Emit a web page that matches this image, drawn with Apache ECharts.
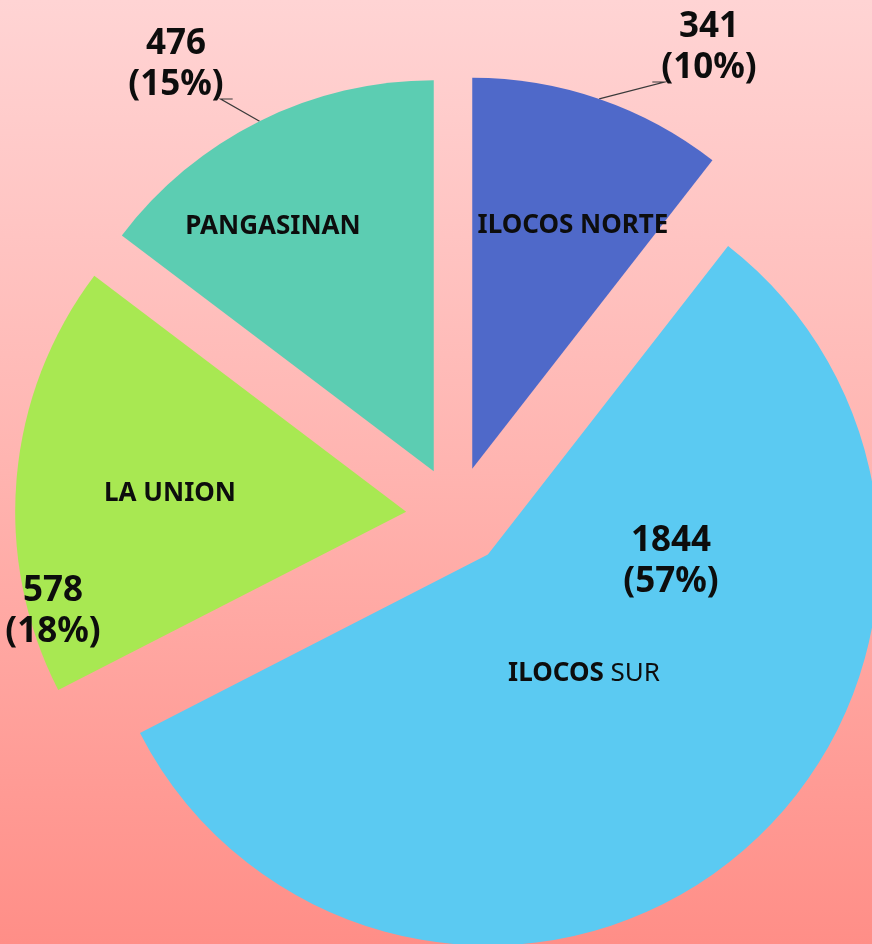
<!DOCTYPE html>
<html>
<head>
<meta charset="utf-8">
<title>Pie</title>
<script src="https://cdn.jsdelivr.net/npm/echarts@6/dist/echarts.min.js"></script>
<style>
  html, body { margin: 0; padding: 0; }
  #chart { width: 872px; height: 944px; }
</style>
</head>
<body>
<div id="chart"></div>
<script>
// data
const provinces = ['ILOCOS NORTE', 'ILOCOS SUR', 'LA UNION', 'PANGASINAN']
const counts = [341, 1844, 578, 476]
const shownPercents = ['10%', '57%', '18%', '15%']

const sliceColors = ['#4f69c9', '#5bcaf2', '#a8e852', '#5ccdb2']

// label centres (they were dragged by hand in the original)
const nameSpots = [[573, 226], [584, 674], [170, 494], [273, 227]]
const valueSpots = [[709, 48], [671, 562], [53, 612], [176, 65]]
const showLeader = [true, false, false, true]

const labelFont = '"Noto Sans", "DejaVu Sans", sans-serif'
const textColor = '#0d0d0d'

const center = [456, 516]
const radius = 391
const explode = 50

// every slice is pulled out along its middle angle
const total = counts.reduce((a, b) => a + b, 0)
let before = 0
const midAngles = counts.map((v) => {
  const a = 90 - 360 * (before + v / 2) / total
  before += v
  return a
})

function sliceCenter(k) {
  const r = midAngles[k] * Math.PI / 180
  return [center[0] + explode * Math.cos(r), center[1] - explode * Math.sin(r)]
}

function arcMiddle(k) {
  const c = sliceCenter(k)
  const r = midAngles[k] * Math.PI / 180
  return [c[0] + radius * Math.cos(r), c[1] - radius * Math.sin(r)]
}

// one pie per slice and per label kind, only slice k is painted / labelled
function sliceSeries(k, kind) {
  const isName = kind === 'name'
  return {
    type: 'pie',
    center: sliceCenter(k),
    radius: radius,
    startAngle: 90,
    clockwise: true,
    avoidLabelOverlap: false,
    silent: true,
    emphasis: { disabled: true },
    itemStyle: { borderWidth: 0 },
    data: provinces.map((name, i) => ({
      name: name,
      value: counts[i],
      itemStyle: { color: (isName && i === k) ? sliceColors[i] : 'rgba(0,0,0,0)' },
      label: { show: i === k },
      labelLine: { show: !isName && i === k && showLeader[i] }
    })),
    label: isName ? {
      position: 'inside',
      color: textColor,
      fontFamily: labelFont,
      fontSize: 26,
      fontWeight: 'bold',
      formatter: (p) => p.name === 'ILOCOS SUR' ? '{b|ILOCOS} {n|SUR}' : p.name,
      rich: {
        b: { fontFamily: labelFont, fontSize: 26, fontWeight: 'bold', color: textColor },
        n: { fontFamily: labelFont, fontSize: 26, fontWeight: 'normal', color: textColor }
      }
    } : {
      position: 'outside',
      color: textColor,
      fontFamily: labelFont,
      fontSize: 35,
      fontWeight: 'bold',
      lineHeight: 41,
      align: 'center',
      formatter: (p) => p.value + '\n(' + shownPercents[p.dataIndex] + ')'
    },
    labelLine: {
      lineStyle: { color: '#3a3a3a', width: 1.2 }
    },
    labelLayout: (p) => {
      if (p.dataIndex !== k) return {}
      const spot = isName ? nameSpots[k] : valueSpots[k]
      const out = { x: spot[0], y: spot[1], align: 'center', verticalAlign: 'middle' }
      if (!isName && showLeader[k]) {
        const w = p.labelRect.width
        const h = p.labelRect.height
        const onRight = Math.cos(midAngles[k] * Math.PI / 180) > 0
        const side = onRight ? -1 : 1
        const end = [spot[0] + side * (w / 2 + 9), spot[1] + h / 2 - 7]
        const elbow = [end[0] - side * 12, end[1]]
        out.labelLinePoints = [arcMiddle(k), elbow, end]
      }
      return out
    }
  }
}

const series = []
provinces.forEach((_, k) => series.push(sliceSeries(k, 'name')))
provinces.forEach((_, k) => series.push(sliceSeries(k, 'value')))

const chart = echarts.init(document.getElementById('chart'))

chart.setOption({
  animation: false,
  backgroundColor: {
    type: 'linear', x: 0, y: 0, x2: 0, y2: 1,
    colorStops: [
      { offset: 0, color: '#ffd4d4' },
      { offset: 0.5, color: '#ffb4b0' },
      { offset: 1, color: '#ff8e87' }
    ]
  },
  series: series
})
</script>
</body>
</html>
